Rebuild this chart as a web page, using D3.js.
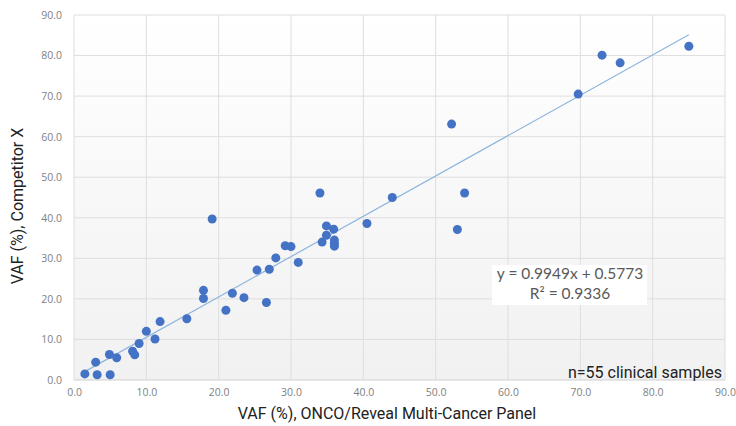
<!DOCTYPE html>
<html>
<head>
<meta charset="utf-8">
<script src="https://cdn.jsdelivr.net/npm/d3@7"></script>
<style>
  body { margin: 0; background: #fff; }
</style>
</head>
<body>
<div id="chart"></div>
<script>
// VAF values: x = ONCO/Reveal panel, y = Competitor X
var xVals = [1.5, 3.2, 5.0, 3.0, 4.9, 5.9, 8.1, 8.4, 9.0, 10.0, 11.2, 11.9, 15.6,
             19.1, 17.9, 17.9, 21.0, 21.9, 23.5, 26.6, 25.3, 27.0, 27.9, 29.2, 30.0, 31.0,
             34.9, 35.9, 34.9, 34.3, 36.0, 36.0, 36.0,
             34.0, 44.0, 54.0, 40.5, 53.0, 52.2,
             69.7, 73.0, 75.5, 85.0];
var yVals = [1.5, 1.3, 1.3, 4.4, 6.3, 5.5, 7.1, 6.2, 9.0, 12.0, 10.1, 14.4, 15.1,
             39.7, 22.1, 20.1, 17.2, 21.4, 20.3, 19.1, 27.1, 27.3, 30.1, 33.1, 32.9, 29.0,
             38.0, 37.2, 35.7, 34.0, 34.5, 33.7, 33.0,
             46.1, 45.0, 46.1, 38.6, 37.1, 63.1,
             70.5, 80.1, 78.2, 82.3];
var ticks = [0, 10, 20, 30, 40, 50, 60, 70, 80, 90];
var slope = 0.9949, intercept = 0.5773;
var eqLabel = "y = 0.9949x + 0.5773";
var r2Label = "R\u00b2 = 0.9336";
var noteLabel = "n=55 clinical samples";

var data = xVals.map(function(d, i) { return {x: d, y: yVals[i]}; });

var width = 736, height = 426;
var plot = {left: 74, right: 725, top: 15, bottom: 380};

var svg = d3.select("#chart").append("svg")
  .attr("width", width)
  .attr("height", height)
  .style("font-family", "'Open Sans', sans-serif");

// light vertical gradient on the plot area
var grad = svg.append("defs").append("linearGradient")
  .attr("id", "bg").attr("x1", 0).attr("y1", 0).attr("x2", 0).attr("y2", 1);
grad.append("stop").attr("offset", "0%").attr("stop-color", "#ffffff");
grad.append("stop").attr("offset", "100%").attr("stop-color", "#f1f1f1");

var x = d3.scaleLinear().domain([0, 90]).range([plot.left, plot.right]);
var y = d3.scaleLinear().domain([0, 90]).range([plot.bottom, plot.top]);

svg.append("rect")
  .attr("x", plot.left).attr("y", plot.top)
  .attr("width", plot.right - plot.left)
  .attr("height", plot.bottom - plot.top)
  .attr("fill", "url(#bg)");

// gridlines
svg.append("g").selectAll("line").data(ticks).enter().append("line")
  .attr("x1", plot.left).attr("x2", plot.right)
  .attr("y1", function(d) { return y(d); }).attr("y2", function(d) { return y(d); })
  .attr("stroke", function(d) { return d === 0 ? "#cfcfcf" : "#dedede"; })
  .attr("stroke-width", 1);
svg.append("g").selectAll("line").data(ticks).enter().append("line")
  .attr("y1", plot.top).attr("y2", plot.bottom)
  .attr("x1", function(d) { return x(d); }).attr("x2", function(d) { return x(d); })
  .attr("stroke", "#dedede")
  .attr("stroke-width", 1);

// axes (labels only)
var yAxis = svg.append("g")
  .attr("transform", "translate(" + plot.left + ",0)")
  .call(d3.axisLeft(y).tickValues(ticks).tickFormat(d3.format(".1f")).tickSize(0).tickPadding(12));
var xAxis = svg.append("g")
  .attr("transform", "translate(0," + plot.bottom + ")")
  .call(d3.axisBottom(x).tickValues(ticks).tickFormat(d3.format(".1f")).tickSize(0).tickPadding(9));
[xAxis, yAxis].forEach(function(a) {
  a.select(".domain").remove();
  a.selectAll("text")
    .attr("fill", "#7f7f7f")
    .style("font-family", "'Open Sans', sans-serif")
    .style("font-size", "10.5px");
});

// trendline
var xMin = d3.min(xVals), xMax = d3.max(xVals);
svg.append("line")
  .attr("x1", x(xMin)).attr("y1", y(slope * xMin + intercept))
  .attr("x2", x(xMax)).attr("y2", y(slope * xMax + intercept))
  .attr("stroke", "#8db6de")
  .attr("stroke-width", 1.2);

// points
svg.append("g").selectAll("circle").data(data).enter().append("circle")
  .attr("cx", function(d) { return x(d.x); })
  .attr("cy", function(d) { return y(d.y); })
  .attr("r", 4.5)
  .attr("fill", "#4472c4");

// equation box
svg.append("rect")
  .attr("x", 492).attr("y", 265).attr("width", 155).attr("height", 40)
  .attr("fill", "#ffffff");
svg.append("text")
  .attr("x", 570).attr("y", 279)
  .attr("text-anchor", "middle")
  .attr("fill", "#595959")
  .style("font-family", "Lato, sans-serif")
  .style("font-size", "15.5px")
  .text(eqLabel);
svg.append("text")
  .attr("x", 570).attr("y", 299)
  .attr("text-anchor", "middle")
  .attr("fill", "#595959")
  .style("font-family", "Lato, sans-serif")
  .style("font-size", "15.5px")
  .text(r2Label);

// sample count note
svg.append("text")
  .attr("x", 722).attr("y", 378)
  .attr("text-anchor", "end")
  .attr("fill", "#222222")
  .style("font-family", "Roboto, sans-serif")
  .style("font-size", "16px")
  .text(noteLabel);

// axis titles
svg.append("text")
  .attr("text-anchor", "middle")
  .attr("transform", "translate(387,419)")
  .attr("fill", "#222222")
  .style("font-family", "Roboto, sans-serif")
  .style("font-size", "16px")
  .text("VAF (%), ONCO/Reveal Multi-Cancer Panel");
svg.append("text")
  .attr("text-anchor", "middle")
  .attr("transform", "translate(23,206)rotate(-90)")
  .attr("fill", "#222222")
  .style("font-family", "Roboto, sans-serif")
  .style("font-size", "16px")
  .text("VAF (%), Competitor X");
</script>
</body>
</html>
